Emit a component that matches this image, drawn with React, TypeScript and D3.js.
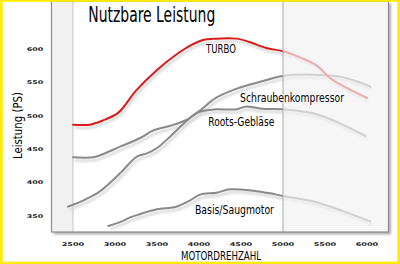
import React from "react";
import * as d3 from "d3";

const W = 400;
const H = 264;

const xTicks = [2500, 3000, 3500, 4000, 4500, 5000, 5500, 6000];
const yTicks = [350, 400, 450, 500, 550, 600];

const turbo: [number, number][] = [
  [2500, 487], [2700, 487], [2850, 493], [3040, 505], [3250, 538], [3500, 569],
  [3750, 594], [3900, 606], [4050, 614], [4200, 616], [4450, 616], [4600, 611],
  [4800, 602], [5000, 597], [5200, 588], [5400, 576], [5560, 557], [5760, 542], [6000, 527],
];
const roots: [number, number][] = [
  [2500, 438], [2740, 438], [2860, 443], [3060, 454], [3300, 467], [3450, 478],
  [3650, 485], [3850, 494], [4000, 506], [4200, 510], [4450, 510], [4550, 514],
  [4750, 511], [5000, 510], [5360, 504], [5680, 489], [5980, 470],
];
const schrauben: [number, number][] = [
  [2440, 364], [2650, 375], [2820, 387], [3060, 414], [3260, 439], [3380, 444],
  [3500, 452], [3655, 469], [3890, 497], [4010, 508], [4200, 527], [4450, 541],
  [4720, 551], [5000, 560], [5360, 562], [5680, 559], [5880, 552], [6040, 544],
];
const basis: [number, number][] = [
  [2920, 335], [3080, 342], [3180, 348], [3300, 353], [3500, 360], [3730, 364],
  [3890, 373], [4010, 382], [4210, 385], [4370, 390], [4650, 388], [4850, 384],
  [5000, 380], [5360, 372], [5720, 357], [6040, 342],
];

const seriesList = [
  { name: "Basis/Saugmotor", data: basis, color: "#8a8a8a" },
  { name: "Roots-Gebläse", data: roots, color: "#8a8a8a" },
  { name: "Schraubenkompressor", data: schrauben, color: "#8a8a8a" },
  { name: "TURBO", data: turbo, color: "#dd1a1a" },
];

const labels = [
  { text: "TURBO", rpm: 4083, ps: 594, len: 30 },
  { text: "Schraubenkompressor", rpm: 4488, ps: 521.6, len: 104 },
  { text: "Roots-Gebläse", rpm: 4111, ps: 485.6, len: 66 },
  { text: "Basis/Saugmotor", rpm: 3952, ps: 353.4, len: 79 },
];

const x = d3.scaleLinear().domain([2500, 6000]).range([73, 367]);
const y = d3.scaleLinear().domain([350, 600]).range([216, 49.3]);

const frame = { x0: 51.5, x1: 388.5, y0: 1, y1: 232 };
const condensed = "'Liberation Sans Narrow', 'DejaVu Sans Condensed', 'Roboto Condensed', 'Liberation Sans', Arial, sans-serif";

export default function App() {
  const line = d3
    .line<[number, number]>()
    .x((d) => x(d[0]))
    .y((d) => y(d[1]))
    .curve(d3.curveCatmullRom.alpha(0.5));

  return (
    <svg width={W} height={H} style={{ position: "absolute", left: 0, top: 0, display: "block" }}>
      <defs>
        <filter id="blur" x="-10%" y="-10%" width="120%" height="120%">
          <feGaussianBlur stdDeviation="1.2" />
        </filter>
        <clipPath id="plotclip">
          <rect x={frame.x0} y={frame.y0} width={frame.x1 - frame.x0} height={frame.y1 - frame.y0} />
        </clipPath>
      </defs>
      <rect x={0} y={0} width={W} height={H} fill="#ffffff" />
      {/* frame shadow */}
      <rect
        x={frame.x0 + 2.5}
        y={frame.y0 + 2.5}
        width={frame.x1 - frame.x0}
        height={frame.y1 - frame.y0}
        fill="#b0b0b0"
        filter="url(#blur)"
      />
      <rect
        x={frame.x0}
        y={frame.y0}
        width={frame.x1 - frame.x0}
        height={frame.y1 - frame.y0}
        fill="#ffffff"
      />
      {/* left band */}
      <rect x={frame.x0} y={frame.y0} width={x(2500) - frame.x0} height={frame.y1 - frame.y0} fill="#f1f1f1" />
      <line x1={x(2500)} x2={x(2500)} y1={frame.y0} y2={frame.y1} stroke="#c4c4c4" strokeWidth={1} />

      <g clipPath="url(#plotclip)">
        {seriesList.map((s) => (
          <path
            key={s.name + "sh"}
            d={line(s.data) || ""}
            transform="translate(1.5,3)"
            fill="none"
            stroke="#d6d6d6"
            strokeWidth={2.2}
            filter="url(#blur)"
          />
        ))}
        {seriesList.map((s) => (
          <path
            key={s.name}
            d={line(s.data) || ""}
            fill="none"
            stroke={s.color}
            strokeWidth={2}
            strokeLinecap="round"
          />
        ))}
        {/* faded right region */}
        <rect
          x={x(5000)}
          y={frame.y0}
          width={frame.x1 - x(5000)}
          height={frame.y1 - frame.y0}
          fill="#f2f2f2"
          opacity={0.68}
        />
      </g>
      <line x1={x(5000)} x2={x(5000)} y1={frame.y0} y2={frame.y1} stroke="#a8a8a8" strokeWidth={1} />
      <rect
        x={frame.x0}
        y={frame.y0}
        width={frame.x1 - frame.x0}
        height={frame.y1 - frame.y0}
        fill="none"
        stroke="#8c8c8c"
        strokeWidth={1.2}
      />

      {/* series labels */}
      {labels.map((l) => (
        <text
          key={l.text}
          x={x(l.rpm)}
          y={y(l.ps)}
          fontFamily={condensed}
          fontSize={11.5}
          fill="#000"
          textLength={l.len}
          lengthAdjust="spacingAndGlyphs"
          stroke="#ffffff"
          strokeWidth={2}
          strokeOpacity={0.6}
          paintOrder="stroke"
        >
          {l.text}
        </text>
      ))}

      {/* title */}
      <text
        x={88.3}
        y={22.3}
        fontFamily={condensed}
        fontSize={21}
        fill="#000"
        textLength={127}
        lengthAdjust="spacingAndGlyphs"
      >
        Nutzbare Leistung
      </text>

      {/* y ticks */}
      {yTicks.map((t) => (
        <text
          key={"y" + t}
          x={43.3}
          y={y(t) + 1.8}
          textAnchor="end"
          fontFamily="'DejaVu Sans', sans-serif"
          fontWeight="bold"
          fontSize={5}
          fill="#222"
          textLength={16.6}
          lengthAdjust="spacingAndGlyphs"
        >
          {t}
        </text>
      ))}
      {/* x ticks */}
      {xTicks.map((t) => (
        <text
          key={"x" + t}
          x={x(t)}
          y={246.3}
          textAnchor="middle"
          fontFamily="'DejaVu Sans', sans-serif"
          fontWeight="bold"
          fontSize={5}
          fill="#222"
          textLength={22.6}
          lengthAdjust="spacingAndGlyphs"
        >
          {t}
        </text>
      ))}

      {/* axis titles */}
      <text
        x={181}
        y={260.3}
        fontFamily={condensed}
        fontSize={11.5}
        fill="#000"
        textLength={80}
        lengthAdjust="spacingAndGlyphs"
      >
        MOTORDREHZAHL
      </text>
      <text
        transform="translate(21.7,159) rotate(-90)"
        fontFamily={condensed}
        fontSize={11.5}
        fill="#000"
        textLength={67}
        lengthAdjust="spacingAndGlyphs"
      >
        Leistung (PS)
      </text>

      {/* yellow border */}
      <rect x={0} y={0} width={2.7} height={H} fill="#ffec00" />
      <rect x={0} y={0} width={W} height={1.8} fill="#ffec00" />
      <rect x={W - 2.7} y={0} width={2.7} height={H} fill="#ffec00" />
      <rect x={0} y={H - 2.3} width={W} height={2.3} fill="#ffec00" />
    </svg>
  );
}
